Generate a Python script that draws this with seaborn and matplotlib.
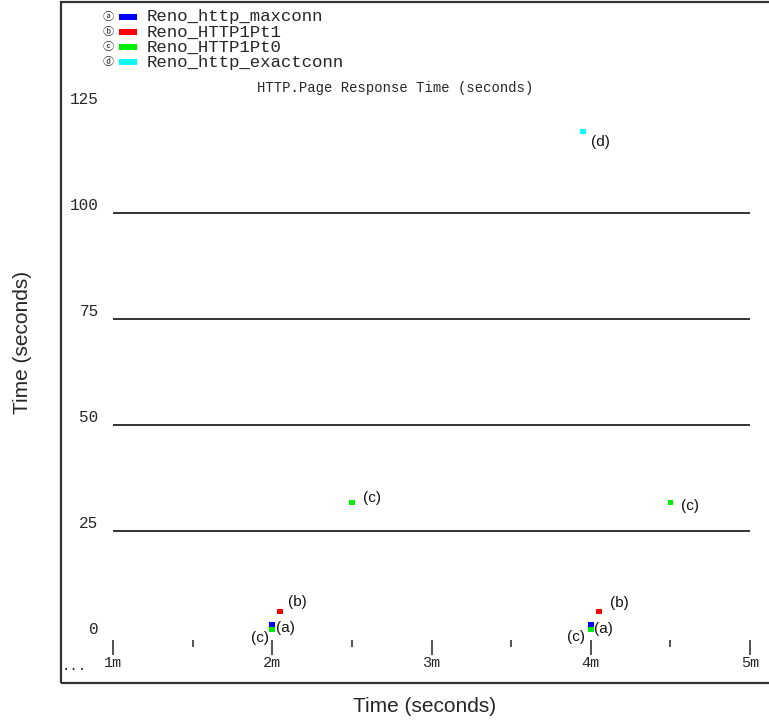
import numpy as np
import pandas as pd
import matplotlib
matplotlib.use("Agg")
import matplotlib.pyplot as plt
from matplotlib.patches import Rectangle
import seaborn as sns

# ---- data -------------------------------------------------------------
series_names = ["Reno_http_maxconn", "Reno_HTTP1Pt1", "Reno_HTTP1Pt0", "Reno_http_exactconn"]
series_tags = ["a", "b", "c", "d"]
series_colors = ["#0000ff", "#ff0000", "#00ee00", "#00ffff"]

maxconn_min = [2.0, 4.0]
maxconn_sec = [2.8, 2.8]
pt1_min = [2.05, 4.05]
pt1_sec = [6.0, 6.0]
pt0_min = [2.0, 2.5, 4.0, 4.5]
pt0_sec = [1.8, 31.7, 1.8, 31.7]
exact_min = [3.95]
exact_sec = [119.3]

y_ticks = [0, 25, 50, 75, 100, 125]
x_major = [1, 2, 3, 4, 5]
x_minor = [1.5, 2.5, 3.5, 4.5]
x_labels = ["1m", "2m", "3m", "4m", "5m"]
grid_levels = [25, 50, 75, 100]

chart_title = "HTTP.Page Response Time (seconds)"
axis_label = "Time (seconds)"

df = pd.concat([
    pd.DataFrame({"minute": maxconn_min, "seconds": maxconn_sec, "series": series_names[0]}),
    pd.DataFrame({"minute": pt1_min, "seconds": pt1_sec, "series": series_names[1]}),
    pd.DataFrame({"minute": pt0_min, "seconds": pt0_sec, "series": series_names[2]}),
    pd.DataFrame({"minute": exact_min, "seconds": exact_sec, "series": series_names[3]}),
], ignore_index=True)

# label offsets (pixels) for each point, in the order of df rows
label_offsets = [(4, -3), (3, -4),
                 (8, 10), (11, 9),
                 (-3, -9), (11, 5), (-6, -8), (11, -3),
                 (8, -11)]

# ---- figure -----------------------------------------------------------
sns.set_style("white")
plt.rcParams["font.family"] = ["DejaVu Sans"]

W, H = 769, 723
fig = plt.figure(figsize=(W / 100, H / 100), dpi=100)


def fx(x):
    return x / W


def fy(y):
    return 1 - y / H


ax = fig.add_axes([fx(61), fy(683), fx(769) - fx(61), fy(2) - fy(683)])
ax.set_xlim(0.6735, 5.119)
ax.set_ylim(-10.85, 149.8)

for s in ax.spines.values():
    s.set_visible(False)
ax.add_patch(Rectangle((0, 0), 1.05, 1, transform=ax.transAxes, fill=False,
                       edgecolor="#333333", linewidth=1.6, clip_on=False))

# horizontal reference lines
ax.hlines(grid_levels, 1, 5, color="#222222", linewidth=1.3)

# points
palette = dict(zip(series_names, series_colors))
sns.scatterplot(data=df, x="minute", y="seconds", hue="series", palette=palette,
                marker="s", s=16, linewidth=0, legend=False, ax=ax, zorder=3)

tag_of = dict(zip(series_names, series_tags))
for (i, row), (dx, dy) in zip(df.iterrows(), label_offsets):
    ax.annotate(f"({tag_of[row['series']]})", (row["minute"], row["seconds"]),
                xytext=(dx, dy), textcoords="offset pixels",
                ha="left" if dx > 0 else "right", va="center",
                fontsize=11, family="Liberation Sans", color="#111111")

# x axis drawn inside the frame just below zero
ax.spines["bottom"].set_position(("data", -0.7))
ax.set_xticks(x_major)
ax.set_xticklabels(x_labels, family="Liberation Mono", fontsize=11)
ax.set_xticks(x_minor, minor=True)
ax.tick_params(axis="x", which="major", direction="out", length=10.5, width=1.1,
               color="#222222", pad=1, bottom=True)
ax.tick_params(axis="x", which="minor", direction="out", length=5, width=1.1,
               color="#222222", bottom=True)

# y axis labels sitting just above each level
ax.spines["left"].set_position(("data", 0.918))
ax.set_yticks(y_ticks)
ax.set_yticklabels([str(v) for v in y_ticks], family="Liberation Mono", fontsize=11.5,
                   va="bottom")
ax.tick_params(axis="y", length=0, pad=1, left=True)
ax.set_xlabel("")
ax.set_ylabel("")

ax.text(fx(62), fy(666), "...", transform=fig.transFigure, family="Liberation Mono",
        fontsize=10, ha="left", va="center")

# legend block and title
row_y = [17, 32, 47, 62]
circled = ["\u24d0", "\u24d1", "\u24d2", "\u24d3"]
for yy, c, name, mark in zip(row_y, series_colors, series_names, circled):
    fig.text(fx(108), fy(yy), mark, fontsize=8, ha="center", va="center",
             family=["Noto Sans CJK JP", "DejaVu Sans"])
    fig.patches.append(Rectangle((fx(119), fy(yy + 3)), fx(18), fy(0) - fy(6),
                                 transform=fig.transFigure, facecolor=c, edgecolor="none"))
    fig.text(fx(147), fy(yy), name, fontsize=12.5, ha="left", va="center",
             family="Liberation Mono")

fig.text(fx(257), fy(88), chart_title, fontsize=10, ha="left", va="center",
         family="Liberation Mono")

# outer axis titles
fig.text(fx(353), fy(707), axis_label, fontsize=15, ha="left", va="center",
         family="Liberation Sans")
fig.text(fx(23), fy(342), axis_label, fontsize=15, ha="center", va="center",
         rotation=90, family="Liberation Sans")

fig.savefig("out.png", dpi=100)
